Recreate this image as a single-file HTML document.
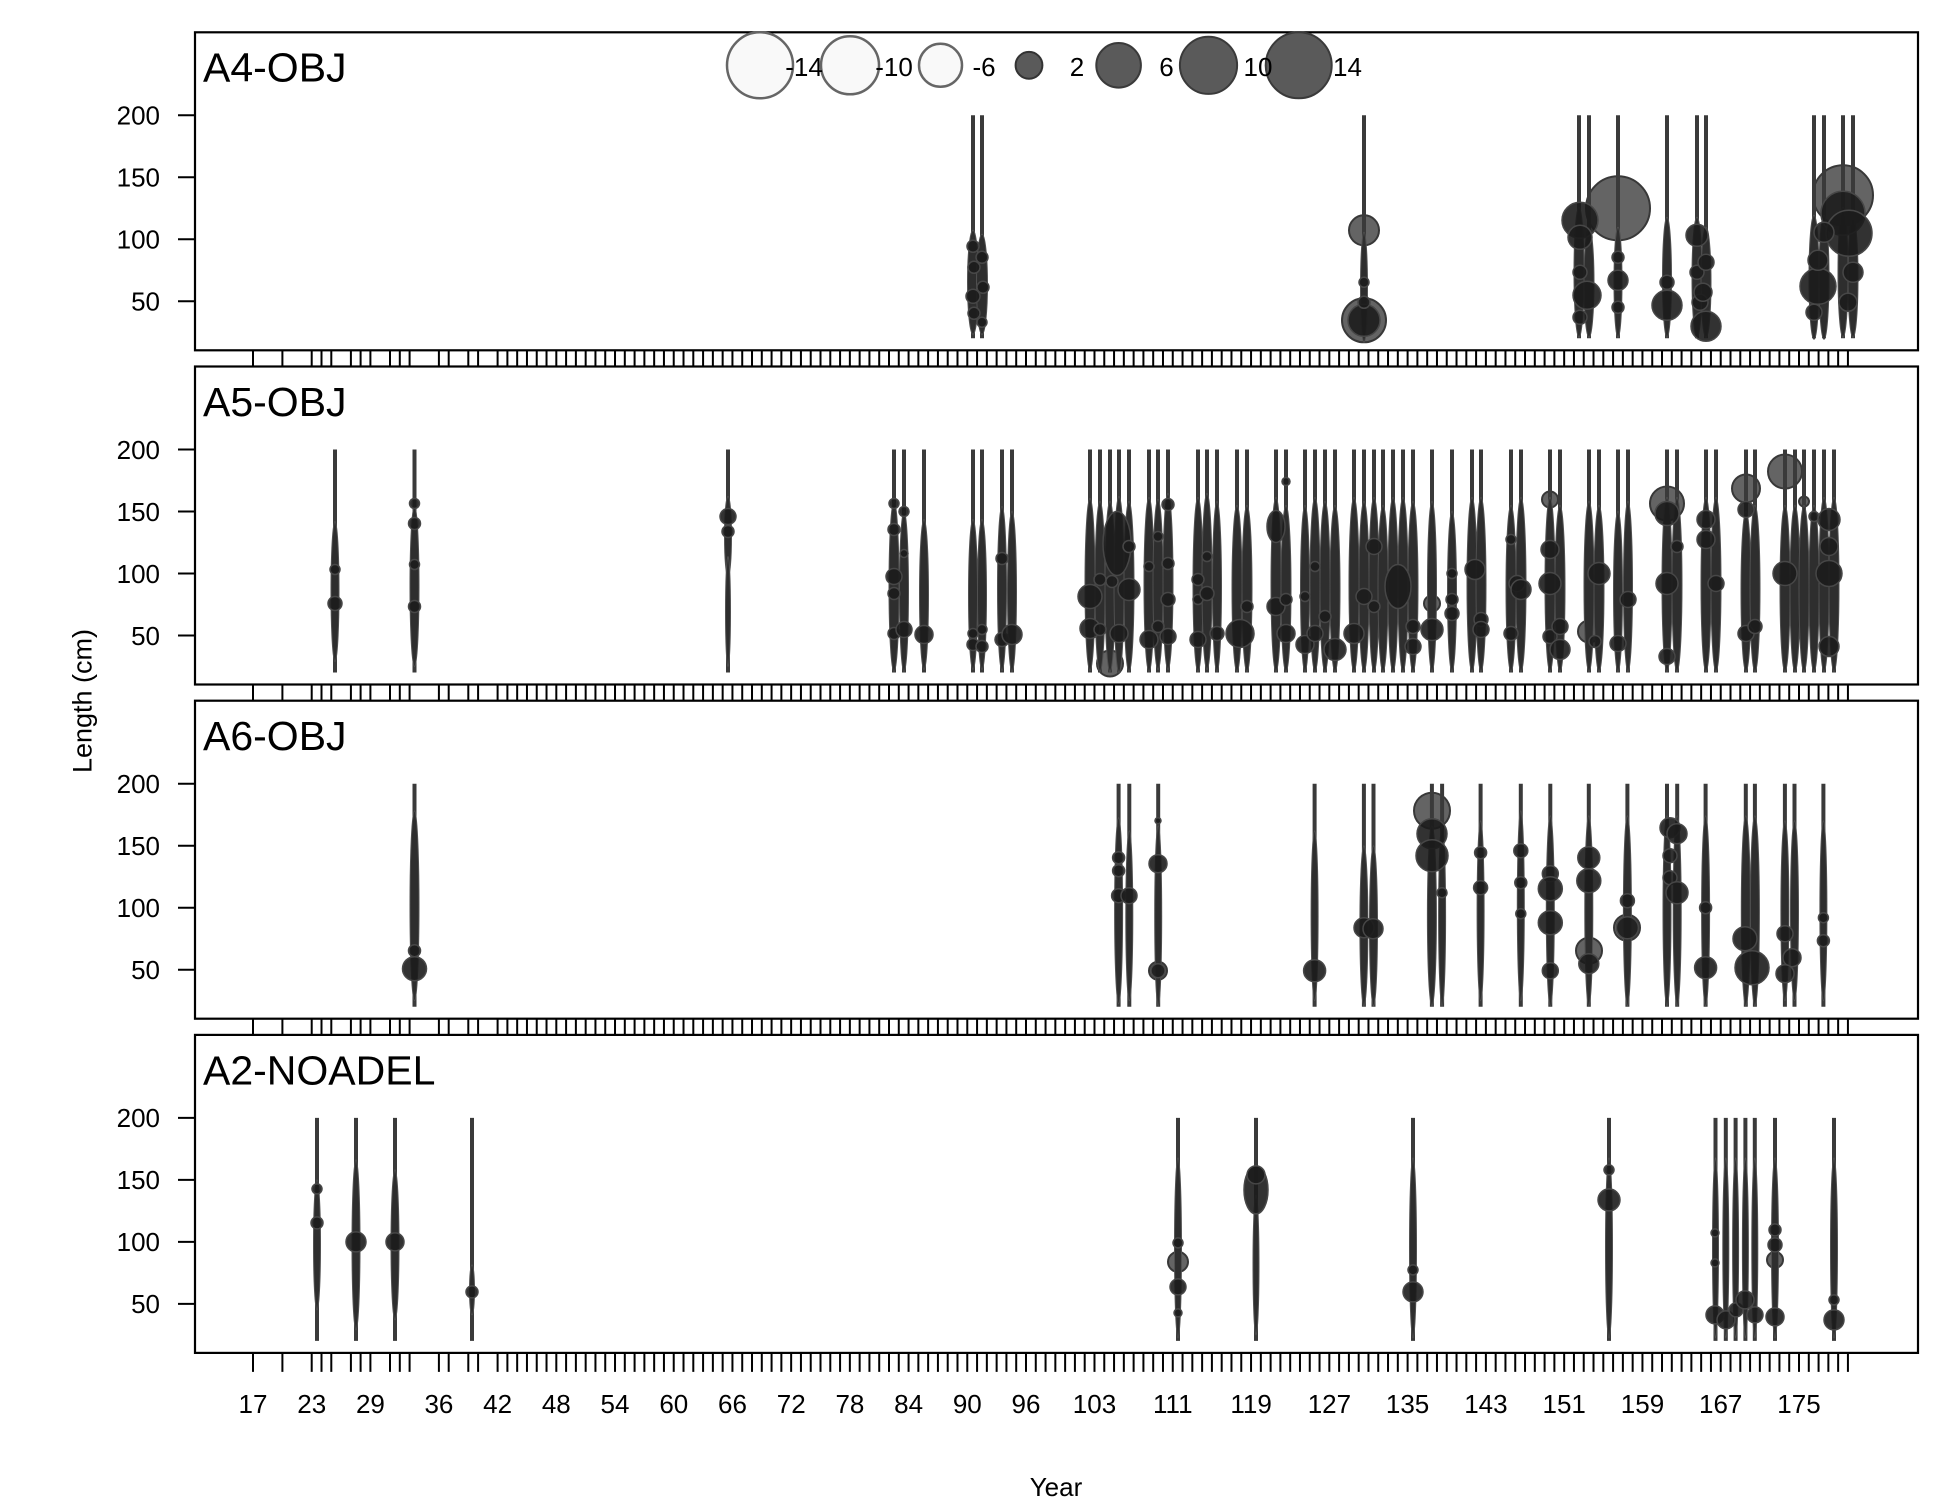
<!DOCTYPE html>
<html><head><meta charset="utf-8">
<style>
html,body{margin:0;padding:0;background:#fff;}
svg{display:block;font-family:"Liberation Sans",Arial,sans-serif;}
.ln{stroke:#3a3a3a;stroke-width:4;fill:none;}
.sp{fill:#2e2e2e;stroke:#505050;stroke-width:1;}
.dk{fill:#1c1c1c;fill-opacity:.9;stroke:#474747;stroke-width:1.5;}
.gy{fill:#5c5c5c;fill-opacity:.95;stroke:#383838;stroke-width:2;}
.bd{fill:none;stroke:#000;stroke-width:2.2;}
.tk{stroke:#000;stroke-width:2;fill:none;}
.yl{font-size:26px;text-anchor:end;fill:#000;}
.xl{font-size:26px;text-anchor:middle;fill:#000;}
.tt{font-size:41px;fill:#000;}
</style></head>
<body>
<svg width="1950" height="1500" viewBox="0 0 1950 1500" xmlns="http://www.w3.org/2000/svg">
<rect x="0" y="0" width="1950" height="1500" fill="#fff"/>
<defs>
<g id="xt">
<path class="tk" d="M253 0v19M282.4 0v19M311.7 0v19M321.5 0v19M331.3 0v19M350.9 0v19M360.6 0v19M370.4 0v19M390 0v19M399.8 0v19M409.6 0v19M438.9 0v19M448.7 0v19M468.3 0v19M478.1 0v19"/>
<line x1="496.6" y1="9.5" x2="1849.2" y2="9.5" stroke="#000" stroke-width="19" stroke-dasharray="2 7.785"/>
</g>
<g id="yt">
<path class="tk" d="M178 83H195M178 145H195M178 207H195M178 269H195"/>
<text class="yl" x="160" y="92.3">200</text>
<text class="yl" x="160" y="154.3">150</text>
<text class="yl" x="160" y="216.3">100</text>
<text class="yl" x="160" y="278.3">50</text>
</g>
</defs>

<!-- PANEL 1 -->
<g transform="translate(0,32.3)">
<use href="#xt" transform="translate(0,318)"/>
<rect x="195" y="0" width="1723" height="318" fill="#fff"/>
<use href="#yt"/>
<text class="tt" x="203" y="49.4">A4-OBJ</text>
<circle class="gy" cx="1364" cy="198" r="15"/>
<circle class="gy" cx="1364" cy="288" r="22"/>
<circle class="gy" cx="1618" cy="176" r="32"/>
<circle class="gy" cx="1843" cy="163" r="30"/>
<path class="ln" d="M973 83V306M982 83V306M1364 83V306M1579 83V306M1589 83V306M1618 83V306M1667 83V306M1697 83V306M1706 83V306M1814 83V306M1824 83V306M1843 83V306M1853 83V306"/>
<ellipse class="sp" cx="973" cy="250" rx="5.5" ry="52"/>
<ellipse class="sp" cx="982" cy="252" rx="5.5" ry="50"/>
<ellipse class="sp" cx="1364" cy="255" rx="3.5" ry="55"/>
<ellipse class="sp" cx="1579" cy="240" rx="5" ry="65"/>
<ellipse class="sp" cx="1589" cy="250" rx="5" ry="55"/>
<ellipse class="sp" cx="1618" cy="250" rx="4" ry="55"/>
<ellipse class="sp" cx="1667" cy="245" rx="4.5" ry="60"/>
<ellipse class="sp" cx="1697" cy="245" rx="5" ry="60"/>
<ellipse class="sp" cx="1706" cy="250" rx="5" ry="55"/>
<ellipse class="sp" cx="1814" cy="245" rx="5" ry="62"/>
<ellipse class="sp" cx="1824" cy="245" rx="5" ry="62"/>
<ellipse class="sp" cx="1843" cy="240" rx="5" ry="65"/>
<ellipse class="sp" cx="1853" cy="245" rx="5" ry="60"/>
<circle class="dk" cx="973" cy="214" r="6"/><circle class="dk" cx="974" cy="235" r="6"/><circle class="dk" cx="973" cy="264" r="7"/><circle class="dk" cx="974" cy="281" r="6"/>
<circle class="dk" cx="982" cy="225" r="6"/><circle class="dk" cx="983" cy="255" r="6"/><circle class="dk" cx="982" cy="290" r="5"/>
<circle class="dk" cx="1364" cy="288" r="16"/><circle class="dk" cx="1364" cy="270" r="6"/><circle class="dk" cx="1364" cy="250" r="5"/>
<circle class="dk" cx="1580" cy="188" r="18"/><circle class="dk" cx="1580" cy="205" r="12"/><circle class="dk" cx="1587" cy="263" r="14"/><circle class="dk" cx="1580" cy="240" r="7"/><circle class="dk" cx="1580" cy="285" r="7"/>
<circle class="dk" cx="1618" cy="248" r="10"/><circle class="dk" cx="1618" cy="225" r="6"/><circle class="dk" cx="1618" cy="275" r="6"/>
<circle class="dk" cx="1667" cy="273" r="15"/><circle class="dk" cx="1667" cy="250" r="7"/>
<circle class="dk" cx="1697" cy="203" r="11"/><circle class="dk" cx="1697" cy="240" r="7"/><circle class="dk" cx="1700" cy="270" r="8"/>
<circle class="dk" cx="1706" cy="294" r="15"/><circle class="dk" cx="1706" cy="230" r="8"/><circle class="dk" cx="1703" cy="260" r="9"/>
<circle class="dk" cx="1843" cy="181" r="22"/><circle class="dk" cx="1849" cy="201" r="23"/><circle class="dk" cx="1818" cy="254" r="18"/><circle class="dk" cx="1818" cy="228" r="10"/><circle class="dk" cx="1824" cy="200" r="10"/><circle class="dk" cx="1853" cy="240" r="10"/><circle class="dk" cx="1848" cy="270" r="9"/><circle class="dk" cx="1814" cy="280" r="8"/>
<rect class="bd" x="195" y="0" width="1723" height="318"/>
</g>

<!-- legend -->
<g>
<circle cx="760" cy="65.3" r="33" fill="#f9f9f9" stroke="#666" stroke-width="2.5"/>
<circle cx="850" cy="65.3" r="29" fill="#f9f9f9" stroke="#666" stroke-width="2.5"/>
<circle cx="940.5" cy="65.3" r="21.5" fill="#f9f9f9" stroke="#666" stroke-width="2.5"/>
<circle cx="1029" cy="65.3" r="13.4" fill="#5a5a5a" stroke="#333" stroke-width="2"/>
<circle cx="1118.6" cy="65.3" r="22.3" fill="#5a5a5a" stroke="#3a3a3a" stroke-width="2"/>
<circle cx="1208.5" cy="65.3" r="28.6" fill="#5a5a5a" stroke="#3a3a3a" stroke-width="2"/>
<circle cx="1298.7" cy="65.3" r="33" fill="#5a5a5a" stroke="#3a3a3a" stroke-width="2"/>
<text class="xl" x="804" y="76">-14</text>
<text class="xl" x="894" y="76">-10</text>
<text class="xl" x="984" y="76">-6</text>
<text class="xl" x="1077" y="76">2</text>
<text class="xl" x="1166.5" y="76">6</text>
<text class="xl" x="1258" y="76">10</text>
<text class="xl" x="1347.5" y="76">14</text>
</g>

<!-- PANEL 2 -->
<g transform="translate(0,366.5)">
<use href="#xt" transform="translate(0,318)"/>
<rect x="195" y="0" width="1723" height="318" fill="#fff"/>
<use href="#yt"/>
<text class="tt" x="203" y="49.4">A5-OBJ</text>
<circle class="gy" cx="1110" cy="297" r="13"/>
<circle class="gy" cx="1550" cy="133" r="8"/>
<circle class="gy" cx="1589" cy="265" r="11"/>
<circle class="gy" cx="1667" cy="137" r="17"/>
<circle class="gy" cx="1746" cy="122" r="14"/>
<circle class="gy" cx="1785" cy="105" r="17"/>
<circle class="gy" cx="1804" cy="135" r="5"/>
<circle class="gy" cx="1432" cy="237" r="8"/>
<path class="ln" d="M335 83V306M414.5 83V306M728 83V306M894 83V306M904 83V306M924 83V306M973 83V306M982 83V306M1002 83V306M1012 83V306M1090 83V306M1100 83V306M1110 83V306M1119 83V306M1129 83V306M1149 83V306M1158 83V306M1168 83V306M1198 83V306M1207 83V306M1217 83V306M1237 83V306M1247 83V306M1276 83V306M1286 83V306M1305 83V306M1315 83V306M1325 83V306M1335 83V306M1354 83V306M1364 83V306M1374 83V306M1383 83V306M1393 83V306M1403 83V306M1413 83V306M1432 83V306M1452 83V306M1472 83V306M1481 83V306M1511 83V306M1521 83V306M1550 83V306M1560 83V306M1589 83V306M1599 83V306M1618 83V306M1628 83V306M1667 83V306M1677 83V306M1706 83V306M1716 83V306M1746 83V306M1755 83V306M1785 83V306M1795 83V306M1804 83V306M1814 83V306M1824 83V306M1834 83V306"/>
<ellipse class="sp" cx="335" cy="225" rx="4" ry="70"/>
<ellipse class="sp" cx="414.5" cy="220" rx="4.5" ry="80"/>
<ellipse class="sp" cx="728" cy="170" rx="3.5" ry="40"/>
<ellipse class="sp" cx="728" cy="245" rx="2.5" ry="55"/>
<ellipse class="sp" cx="894" cy="220" rx="5" ry="85"/>
<ellipse class="sp" cx="904" cy="225" rx="4.5" ry="80"/>
<ellipse class="sp" cx="924" cy="228" rx="4.5" ry="75"/>
<ellipse class="sp" cx="973" cy="228" rx="4.5" ry="75"/>
<ellipse class="sp" cx="982" cy="228" rx="4.5" ry="75"/>
<ellipse class="sp" cx="1002" cy="222" rx="4.5" ry="82"/>
<ellipse class="sp" cx="1012" cy="225" rx="4.5" ry="80"/>
<ellipse class="sp" cx="1090" cy="218" rx="5" ry="86"/>
<ellipse class="sp" cx="1100" cy="220" rx="5" ry="85"/>
<ellipse class="sp" cx="1110" cy="220" rx="5" ry="85"/>
<ellipse class="sp" cx="1119" cy="218" rx="5" ry="88"/>
<ellipse class="sp" cx="1129" cy="220" rx="5" ry="85"/>
<ellipse class="sp" cx="1149" cy="218" rx="5" ry="87"/>
<ellipse class="sp" cx="1158" cy="218" rx="5" ry="85"/>
<ellipse class="sp" cx="1168" cy="215" rx="5" ry="88"/>
<ellipse class="sp" cx="1198" cy="218" rx="5" ry="87"/>
<ellipse class="sp" cx="1207" cy="215" rx="5" ry="88"/>
<ellipse class="sp" cx="1217" cy="220" rx="4.5" ry="85"/>
<ellipse class="sp" cx="1237" cy="222" rx="5" ry="83"/>
<ellipse class="sp" cx="1247" cy="222" rx="5" ry="83"/>
<ellipse class="sp" cx="1276" cy="218" rx="5" ry="87"/>
<ellipse class="sp" cx="1286" cy="222" rx="5" ry="83"/>
<ellipse class="sp" cx="1305" cy="222" rx="4.5" ry="83"/>
<ellipse class="sp" cx="1315" cy="218" rx="5" ry="87"/>
<ellipse class="sp" cx="1325" cy="220" rx="5" ry="85"/>
<ellipse class="sp" cx="1335" cy="222" rx="5" ry="83"/>
<ellipse class="sp" cx="1354" cy="218" rx="5" ry="87"/>
<ellipse class="sp" cx="1364" cy="220" rx="5" ry="85"/>
<ellipse class="sp" cx="1374" cy="218" rx="5" ry="87"/>
<ellipse class="sp" cx="1383" cy="222" rx="5" ry="83"/>
<ellipse class="sp" cx="1393" cy="218" rx="5" ry="87"/>
<ellipse class="sp" cx="1403" cy="218" rx="5" ry="87"/>
<ellipse class="sp" cx="1413" cy="220" rx="5" ry="85"/>
<ellipse class="sp" cx="1432" cy="220" rx="4.5" ry="85"/>
<ellipse class="sp" cx="1452" cy="225" rx="4.5" ry="80"/>
<ellipse class="sp" cx="1472" cy="218" rx="5" ry="87"/>
<ellipse class="sp" cx="1481" cy="218" rx="5" ry="87"/>
<ellipse class="sp" cx="1511" cy="222" rx="5" ry="83"/>
<ellipse class="sp" cx="1521" cy="218" rx="5" ry="87"/>
<ellipse class="sp" cx="1550" cy="218" rx="5" ry="87"/>
<ellipse class="sp" cx="1560" cy="222" rx="5" ry="83"/>
<ellipse class="sp" cx="1589" cy="220" rx="5" ry="85"/>
<ellipse class="sp" cx="1599" cy="222" rx="5" ry="83"/>
<ellipse class="sp" cx="1618" cy="225" rx="4.5" ry="80"/>
<ellipse class="sp" cx="1628" cy="220" rx="4.5" ry="85"/>
<ellipse class="sp" cx="1667" cy="218" rx="5" ry="87"/>
<ellipse class="sp" cx="1677" cy="218" rx="5" ry="87"/>
<ellipse class="sp" cx="1706" cy="218" rx="5" ry="87"/>
<ellipse class="sp" cx="1716" cy="218" rx="5" ry="87"/>
<ellipse class="sp" cx="1746" cy="225" rx="5" ry="80"/>
<ellipse class="sp" cx="1755" cy="222" rx="5" ry="83"/>
<ellipse class="sp" cx="1785" cy="222" rx="5" ry="83"/>
<ellipse class="sp" cx="1795" cy="222" rx="5" ry="83"/>
<ellipse class="sp" cx="1804" cy="222" rx="5" ry="83"/>
<ellipse class="sp" cx="1814" cy="222" rx="5" ry="83"/>
<ellipse class="sp" cx="1824" cy="218" rx="5" ry="87"/>
<ellipse class="sp" cx="1834" cy="218" rx="5" ry="87"/>
<circle class="dk" cx="335" cy="203" r="5"/><circle class="dk" cx="335" cy="237" r="7"/>
<circle class="dk" cx="414.5" cy="137" r="5"/><circle class="dk" cx="414.5" cy="157" r="6"/><circle class="dk" cx="414.5" cy="198" r="5"/><circle class="dk" cx="414.5" cy="240" r="6"/>
<circle class="dk" cx="728" cy="150" r="8"/><circle class="dk" cx="728" cy="165" r="6"/>
<circle class="dk" cx="894" cy="137" r="5"/><circle class="dk" cx="894" cy="163" r="6"/><circle class="dk" cx="894" cy="210" r="8"/><circle class="dk" cx="894" cy="227" r="6"/><circle class="dk" cx="894" cy="267" r="6"/>
<circle class="dk" cx="904" cy="145" r="5"/><circle class="dk" cx="904" cy="187" r="4"/><circle class="dk" cx="904" cy="263" r="8"/>
<circle class="dk" cx="924" cy="268" r="9"/>
<circle class="dk" cx="973" cy="267" r="5"/><circle class="dk" cx="973" cy="278" r="6"/>
<circle class="dk" cx="982" cy="263" r="5"/><circle class="dk" cx="982" cy="280" r="6"/>
<circle class="dk" cx="1002" cy="192" r="6"/><circle class="dk" cx="1002" cy="273" r="7"/>
<circle class="dk" cx="1012" cy="268" r="10"/>
<circle class="dk" cx="1090" cy="230" r="12"/><circle class="dk" cx="1090" cy="262" r="10"/>
<circle class="dk" cx="1100" cy="213" r="6"/><circle class="dk" cx="1100" cy="263" r="6"/>
<ellipse class="dk" cx="1117" cy="177" rx="14" ry="32"/>
<circle class="dk" cx="1119" cy="267" r="9"/><circle class="dk" cx="1112" cy="215" r="6"/>
<circle class="dk" cx="1129" cy="223" r="11"/><circle class="dk" cx="1129" cy="180" r="6"/>
<circle class="dk" cx="1149" cy="273" r="9"/><circle class="dk" cx="1149" cy="200" r="5"/>
<circle class="dk" cx="1158" cy="260" r="6"/><circle class="dk" cx="1158" cy="170" r="5"/>
<circle class="dk" cx="1168" cy="138" r="6"/><circle class="dk" cx="1168" cy="197" r="6"/><circle class="dk" cx="1168" cy="233" r="7"/><circle class="dk" cx="1168" cy="270" r="8"/>
<circle class="dk" cx="1198" cy="213" r="6"/><circle class="dk" cx="1198" cy="273" r="8"/><circle class="dk" cx="1198" cy="233" r="5"/>
<circle class="dk" cx="1207" cy="227" r="7"/><circle class="dk" cx="1207" cy="190" r="5"/>
<circle class="dk" cx="1217" cy="267" r="7"/>
<circle class="dk" cx="1240" cy="267" r="14"/><circle class="dk" cx="1247" cy="240" r="6"/>
<ellipse class="dk" cx="1276" cy="160" rx="9" ry="16"/><circle class="dk" cx="1276" cy="240" r="9"/>
<circle class="dk" cx="1286" cy="115" r="4"/><circle class="dk" cx="1286" cy="267" r="9"/><circle class="dk" cx="1286" cy="233" r="6"/>
<circle class="dk" cx="1305" cy="278" r="9"/><circle class="dk" cx="1305" cy="230" r="5"/>
<circle class="dk" cx="1315" cy="267" r="8"/><circle class="dk" cx="1315" cy="200" r="5"/>
<circle class="dk" cx="1325" cy="250" r="6"/>
<circle class="dk" cx="1335" cy="283" r="11"/>
<circle class="dk" cx="1354" cy="267" r="10"/>
<circle class="dk" cx="1364" cy="230" r="8"/>
<circle class="dk" cx="1374" cy="180" r="8"/><circle class="dk" cx="1374" cy="240" r="6"/>
<ellipse class="dk" cx="1398" cy="220" rx="13" ry="22"/>
<circle class="dk" cx="1413" cy="260" r="7"/><circle class="dk" cx="1413" cy="280" r="8"/>
<circle class="dk" cx="1432" cy="263" r="11"/>
<circle class="dk" cx="1452" cy="207" r="5"/><circle class="dk" cx="1452" cy="233" r="6"/><circle class="dk" cx="1452" cy="247" r="7"/>
<circle class="dk" cx="1475" cy="203" r="10"/><circle class="dk" cx="1481" cy="253" r="7"/><circle class="dk" cx="1481" cy="263" r="8"/>
<circle class="dk" cx="1511" cy="173" r="5"/><circle class="dk" cx="1517" cy="217" r="8"/><circle class="dk" cx="1521" cy="223" r="10"/><circle class="dk" cx="1511" cy="267" r="7"/>
<circle class="dk" cx="1550" cy="183" r="9"/><circle class="dk" cx="1550" cy="217" r="11"/><circle class="dk" cx="1550" cy="270" r="7"/>
<circle class="dk" cx="1560" cy="260" r="8"/><circle class="dk" cx="1560" cy="283" r="10"/>
<circle class="dk" cx="1599" cy="207" r="11"/><circle class="dk" cx="1595" cy="275" r="6"/>
<circle class="dk" cx="1618" cy="277" r="8"/>
<circle class="dk" cx="1628" cy="233" r="8"/>
<circle class="dk" cx="1667" cy="147" r="12"/><circle class="dk" cx="1667" cy="217" r="11"/><circle class="dk" cx="1667" cy="290" r="8"/>
<circle class="dk" cx="1677" cy="180" r="6"/>
<circle class="dk" cx="1706" cy="153" r="9"/><circle class="dk" cx="1706" cy="173" r="9"/><circle class="dk" cx="1716" cy="217" r="8"/>
<circle class="dk" cx="1746" cy="143" r="8"/><circle class="dk" cx="1746" cy="267" r="8"/>
<circle class="dk" cx="1755" cy="260" r="7"/>
<circle class="dk" cx="1785" cy="207" r="12"/>
<circle class="dk" cx="1814" cy="150" r="5"/>
<circle class="dk" cx="1829" cy="153" r="11"/><circle class="dk" cx="1829" cy="180" r="9"/><circle class="dk" cx="1829" cy="207" r="13"/><circle class="dk" cx="1829" cy="280" r="10"/>
<rect class="bd" x="195" y="0" width="1723" height="318"/>
</g>

<!-- PANEL 3 -->
<g transform="translate(0,700.7)">
<use href="#xt" transform="translate(0,318)"/>
<rect x="195" y="0" width="1723" height="318" fill="#fff"/>
<use href="#yt"/>
<text class="tt" x="203" y="49.4">A6-OBJ</text>
<circle class="gy" cx="1432" cy="110" r="18"/>
<circle class="gy" cx="1589" cy="250" r="13"/>
<circle class="gy" cx="1158" cy="270" r="9"/>
<circle class="gy" cx="1627" cy="227" r="13"/>
<path class="ln" d="M414.5 83V306M1118.6 83V306M1129.3 83V306M1158.2 83V306M1314.6 83V306M1363.9 83V306M1373.5 83V306M1431.9 83V306M1442.1 83V306M1480.6 83V306M1520.8 83V306M1550.3 83V306M1588.8 83V306M1627.4 83V306M1667 83V306M1677.2 83V306M1705.6 83V306M1745.8 83V306M1754.9 83V306M1784.9 83V306M1794.5 83V306M1823.4 83V306"/>
<ellipse class="sp" cx="414.5" cy="205" rx="4.5" ry="95"/>
<ellipse class="sp" cx="1118.6" cy="210" rx="4" ry="93"/>
<ellipse class="sp" cx="1129.3" cy="215" rx="3.5" ry="85"/>
<ellipse class="sp" cx="1158.2" cy="215" rx="3.5" ry="90"/>
<ellipse class="sp" cx="1314.6" cy="215" rx="3.5" ry="85"/>
<ellipse class="sp" cx="1363.9" cy="225" rx="4" ry="80"/>
<ellipse class="sp" cx="1373.5" cy="225" rx="4" ry="80"/>
<ellipse class="sp" cx="1431.9" cy="215" rx="4.5" ry="90"/>
<ellipse class="sp" cx="1442.1" cy="215" rx="3.5" ry="90"/>
<ellipse class="sp" cx="1480.6" cy="210" rx="3.5" ry="90"/>
<ellipse class="sp" cx="1520.8" cy="205" rx="3.5" ry="95"/>
<ellipse class="sp" cx="1550.3" cy="210" rx="4" ry="95"/>
<ellipse class="sp" cx="1588.8" cy="210" rx="4" ry="95"/>
<ellipse class="sp" cx="1627.4" cy="210" rx="4" ry="95"/>
<ellipse class="sp" cx="1667" cy="210" rx="4" ry="95"/>
<ellipse class="sp" cx="1677.2" cy="210" rx="4" ry="95"/>
<ellipse class="sp" cx="1705.6" cy="210" rx="4" ry="95"/>
<ellipse class="sp" cx="1745.8" cy="210" rx="4.5" ry="95"/>
<ellipse class="sp" cx="1754.9" cy="210" rx="4.5" ry="95"/>
<ellipse class="sp" cx="1784.9" cy="210" rx="4" ry="90"/>
<ellipse class="sp" cx="1794.5" cy="210" rx="4" ry="90"/>
<ellipse class="sp" cx="1823.4" cy="210" rx="3.5" ry="90"/>
<circle class="dk" cx="414.5" cy="268" r="12"/><circle class="dk" cx="414.5" cy="250" r="6"/>
<circle class="dk" cx="1118.6" cy="157" r="6"/><circle class="dk" cx="1118.6" cy="170" r="6"/><circle class="dk" cx="1118.6" cy="195" r="7"/>
<circle class="dk" cx="1129" cy="195" r="8"/>
<circle class="dk" cx="1158" cy="163" r="9"/><circle class="dk" cx="1158" cy="120" r="3"/><circle class="dk" cx="1158" cy="270" r="7"/>
<circle class="dk" cx="1314.6" cy="270" r="11"/>
<circle class="dk" cx="1364" cy="227" r="10"/><circle class="dk" cx="1373" cy="228" r="10"/>
<circle class="dk" cx="1432" cy="133" r="15"/><circle class="dk" cx="1432" cy="155" r="16"/>
<circle class="dk" cx="1442" cy="192" r="5"/>
<circle class="dk" cx="1480.6" cy="152" r="6"/><circle class="dk" cx="1480.6" cy="187" r="7"/>
<circle class="dk" cx="1520.8" cy="150" r="7"/><circle class="dk" cx="1520.8" cy="182" r="6"/><circle class="dk" cx="1520.8" cy="213" r="5"/>
<circle class="dk" cx="1550.3" cy="173" r="8"/><circle class="dk" cx="1550.3" cy="188" r="12"/><circle class="dk" cx="1550.3" cy="222" r="12"/><circle class="dk" cx="1550.3" cy="270" r="8"/>
<circle class="dk" cx="1588.8" cy="157" r="11"/><circle class="dk" cx="1588.8" cy="180" r="12"/><circle class="dk" cx="1588.8" cy="263" r="10"/>
<circle class="dk" cx="1627.4" cy="200" r="7"/><circle class="dk" cx="1627.4" cy="227" r="11"/>
<circle class="dk" cx="1670" cy="127" r="10"/><circle class="dk" cx="1677" cy="133" r="10"/><circle class="dk" cx="1670" cy="155" r="7"/><circle class="dk" cx="1670" cy="177" r="7"/><circle class="dk" cx="1677" cy="192" r="11"/>
<circle class="dk" cx="1705.6" cy="207" r="6"/><circle class="dk" cx="1705.6" cy="267" r="11"/>
<circle class="dk" cx="1745" cy="238" r="12"/><circle class="dk" cx="1752" cy="267" r="17"/>
<circle class="dk" cx="1785" cy="233" r="8"/><circle class="dk" cx="1792" cy="257" r="9"/><circle class="dk" cx="1785" cy="273" r="9"/>
<circle class="dk" cx="1823.4" cy="217" r="5"/><circle class="dk" cx="1823.4" cy="240" r="6"/>
<rect class="bd" x="195" y="0" width="1723" height="318"/>
</g>

<!-- PANEL 4 -->
<g transform="translate(0,1034.9)">
<use href="#xt" transform="translate(0,318)"/>
<rect x="195" y="0" width="1723" height="318" fill="#fff"/>
<use href="#yt"/>
<text class="tt" x="203" y="49.4">A2-NOADEL</text>
<circle class="gy" cx="1178" cy="227" r="10"/>
<circle class="gy" cx="1775" cy="225" r="8"/>
<path class="ln" d="M317 83V306M356 83V306M395 83V306M472 83V306M1178 83V306M1256 83V306M1413 83V306M1609 83V306M1715.5 83V306M1725.8 83V306M1735.6 83V306M1745.4 83V306M1754.8 83V306M1775 83V306M1834 83V306"/>
<ellipse class="sp" cx="317" cy="210" rx="3.5" ry="65"/>
<ellipse class="sp" cx="356" cy="210" rx="4" ry="85"/>
<ellipse class="sp" cx="395" cy="210" rx="4" ry="75"/>
<ellipse class="sp" cx="472" cy="255" rx="2.5" ry="25"/>
<ellipse class="sp" cx="1178" cy="213" rx="3.5" ry="90"/>
<ellipse class="sp" cx="1256" cy="230" rx="3" ry="70"/>
<ellipse class="sp" cx="1413" cy="213" rx="3.5" ry="90"/>
<ellipse class="sp" cx="1609" cy="213" rx="3.5" ry="90"/>
<ellipse class="sp" cx="1715.5" cy="213" rx="3" ry="90"/>
<ellipse class="sp" cx="1725.8" cy="213" rx="3" ry="90"/>
<ellipse class="sp" cx="1735.6" cy="213" rx="3" ry="90"/>
<ellipse class="sp" cx="1745.4" cy="213" rx="3" ry="90"/>
<ellipse class="sp" cx="1754.8" cy="213" rx="3" ry="90"/>
<ellipse class="sp" cx="1775" cy="213" rx="3.5" ry="90"/>
<ellipse class="sp" cx="1834" cy="213" rx="3.5" ry="90"/>
<circle class="dk" cx="317" cy="154" r="5"/><circle class="dk" cx="317" cy="188" r="6"/>
<circle class="dk" cx="356" cy="207" r="10"/>
<circle class="dk" cx="395" cy="207" r="9"/>
<circle class="dk" cx="472" cy="257" r="6"/>
<circle class="dk" cx="1178" cy="208" r="5"/><circle class="dk" cx="1178" cy="252" r="8"/><circle class="dk" cx="1178" cy="278" r="4"/>
<ellipse class="dk" cx="1256" cy="155" rx="12" ry="24"/><circle class="dk" cx="1256" cy="140" r="9"/>
<circle class="dk" cx="1413" cy="235" r="5"/><circle class="dk" cx="1413" cy="257" r="10"/>
<circle class="dk" cx="1609" cy="135" r="5"/><circle class="dk" cx="1609" cy="165" r="11"/>
<circle class="dk" cx="1715" cy="198" r="4"/><circle class="dk" cx="1715" cy="228" r="4"/><circle class="dk" cx="1715" cy="280" r="9"/>
<circle class="dk" cx="1726" cy="285" r="9"/>
<circle class="dk" cx="1736" cy="275" r="7"/>
<circle class="dk" cx="1745" cy="265" r="9"/>
<circle class="dk" cx="1755" cy="280" r="8"/>
<circle class="dk" cx="1775" cy="195" r="6"/><circle class="dk" cx="1775" cy="210" r="7"/><circle class="dk" cx="1775" cy="282" r="9"/>
<circle class="dk" cx="1834" cy="285" r="10"/><circle class="dk" cx="1834" cy="265" r="5"/>
<rect class="bd" x="195" y="0" width="1723" height="318"/>
</g>

<!-- x tick labels -->
<g>
<text class="xl" x="253" y="1413">17</text>
<text class="xl" x="311.7" y="1413">23</text>
<text class="xl" x="370.4" y="1413">29</text>
<text class="xl" x="438.9" y="1413">36</text>
<text class="xl" x="497.6" y="1413">42</text>
<text class="xl" x="556.3" y="1413">48</text>
<text class="xl" x="615" y="1413">54</text>
<text class="xl" x="673.8" y="1413">60</text>
<text class="xl" x="732.5" y="1413">66</text>
<text class="xl" x="791.2" y="1413">72</text>
<text class="xl" x="849.9" y="1413">78</text>
<text class="xl" x="908.6" y="1413">84</text>
<text class="xl" x="967.3" y="1413">90</text>
<text class="xl" x="1026" y="1413">96</text>
<text class="xl" x="1094.5" y="1413">103</text>
<text class="xl" x="1172.8" y="1413">111</text>
<text class="xl" x="1251.1" y="1413">119</text>
<text class="xl" x="1329.4" y="1413">127</text>
<text class="xl" x="1407.6" y="1413">135</text>
<text class="xl" x="1485.9" y="1413">143</text>
<text class="xl" x="1564.2" y="1413">151</text>
<text class="xl" x="1642.5" y="1413">159</text>
<text class="xl" x="1720.7" y="1413">167</text>
<text class="xl" x="1799" y="1413">175</text>
</g>

<text x="1056" y="1496" font-size="26" text-anchor="middle">Year</text>
<text transform="translate(91.7,701) rotate(-90)" font-size="27" text-anchor="middle">Length (cm)</text>
</svg>
</body></html>
